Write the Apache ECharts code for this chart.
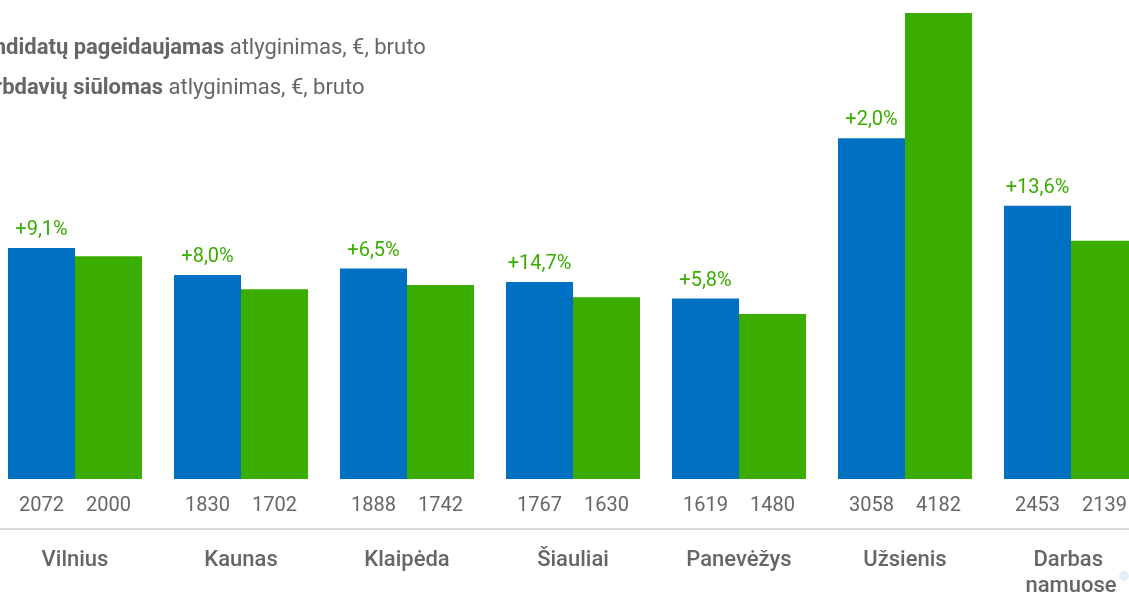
<!DOCTYPE html>
<html>
<head>
<meta charset="utf-8">
<script src="https://cdn.jsdelivr.net/npm/echarts@6/dist/echarts.min.js"></script>
<style>
    html, body { margin: 0; padding: 0; background: #fff; }
    #chart { width: 1129px; height: 595px; }
</style>
</head>
<body>
<div id="chart"></div>
<script>
// duomenys
const categories = ['Vilnius', 'Kaunas', 'Klaipėda', 'Šiauliai', 'Panevėžys', 'Užsienis', 'Darbas namuose'];
const kandidatai = [2072, 1830, 1888, 1767, 1619, 3058, 2453];
const darbdaviai = [2000, 1702, 1742, 1630, 1480, 4182, 2139];
const pokytis = ['+9,1%', '+8,0%', '+6,5%', '+14,7%', '+5,8%', '+2,0%', '+13,6%'];

const BLUE = '#0071c2';
const GREEN = '#3aad00';
const GRAY = '#666666';

const myChart = echarts.init(document.getElementById('chart'));

const options = {
    animation: false,
    textStyle: { fontFamily: 'Roboto' },
    legend: {
        orient: 'vertical',
        left: -58,
        top: 32,
        itemGap: 18,
        itemWidth: 16,
        itemHeight: 16,
        icon: 'rect',
        data: ['Kandidatų pageidaujamas', 'Darbdavių siūlomas'],
        formatter: (name) => '{b|' + name + '} atlyginimas, €, bruto',
        textStyle: {
            color: GRAY,
            fontSize: 22,
            rich: {
                b: { fontWeight: 'bold', fontSize: 22, color: GRAY }
            }
        }
    },
    grid: {
        left: -8,
        right: -25,
        top: 11,
        bottom: 116,
        outerBoundsMode: 'none'
    },
    xAxis: {
        type: 'category',
        data: categories,
        offset: 50,
        axisLine: { onZero: false, lineStyle: { color: '#cccccc', width: 1.5 } },
        axisTick: { show: false },
        axisLabel: {
            interval: 0,
            color: GRAY,
            fontSize: 22,
            fontWeight: 500,
            margin: 18,
            width: 130,
            overflow: 'break',
            lineHeight: 26
        }
    },
    yAxis: {
        type: 'value',
        min: 0,
        max: 4200,
        show: false,
        splitLine: { show: false }
    },
    series: [
        {
            name: 'Kandidatų pageidaujamas',
            type: 'bar',
            stack: 'k',
            data: kandidatai,
            barGap: 0,
            barCategoryGap: '19.3%',
            itemStyle: { color: BLUE },
            label: {
                show: true,
                position: 'bottom',
                distance: 17,
                color: GRAY,
                fontSize: 20
            }
        },
        {
            // nulinis stulpelis virš mėlynojo – tik pokyčio etiketei
            name: 'pokytis',
            type: 'bar',
            stack: 'k',
            data: pokytis.map(() => 0),
            itemStyle: { color: 'rgba(0,0,0,0)' },
            label: {
                show: true,
                position: 'top',
                distance: 8,
                color: GREEN,
                fontSize: 20,
                formatter: (p) => pokytis[p.dataIndex]
            }
        },
        {
            name: 'Darbdavių siūlomas',
            type: 'bar',
            data: darbdaviai,
            barGap: 0,
            barCategoryGap: '19.3%',
            itemStyle: { color: GREEN },
            label: {
                show: true,
                position: 'bottom',
                distance: 17,
                color: GRAY,
                fontSize: 20
            }
        }
    ],
    graphic: [
        {
            type: 'circle',
            right: 0,
            top: 571,
            shape: { r: 5 },
            style: { fill: '#e6eef8' }
        }
    ]
};

myChart.setOption(options);
</script>
</body>
</html>
